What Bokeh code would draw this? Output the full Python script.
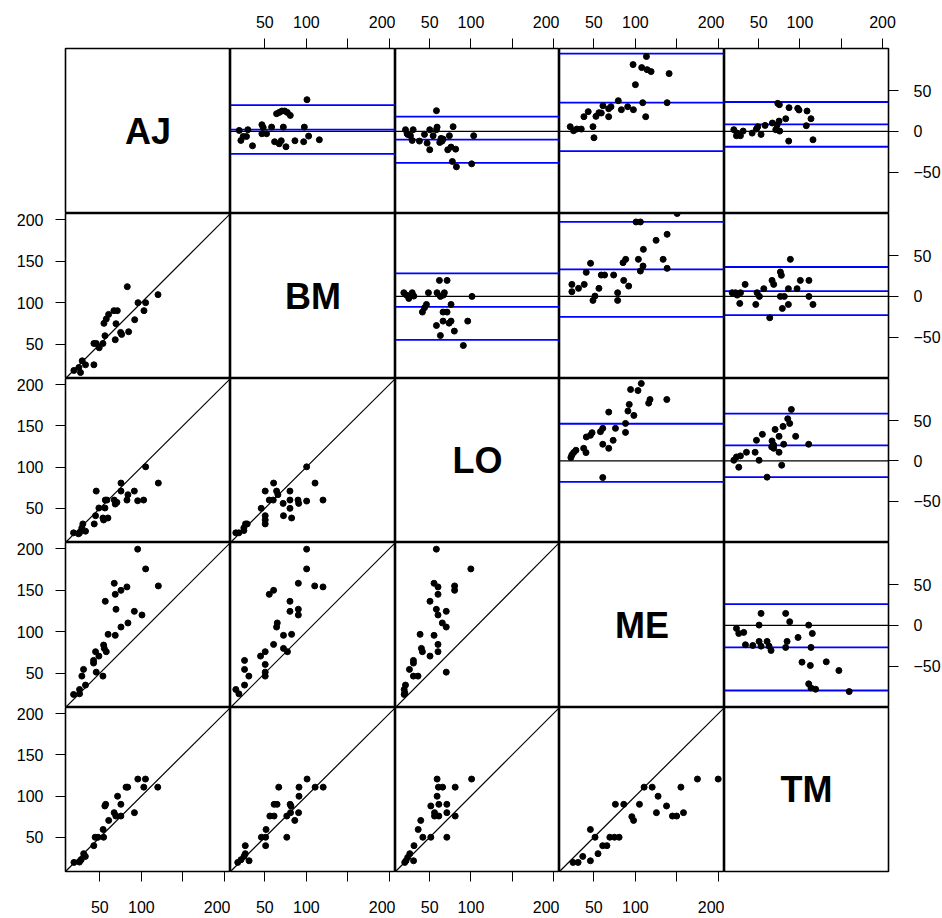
from bokeh.plotting import figure
from bokeh.layouts import gridplot
from bokeh.models import Range1d, LinearAxis, FixedTicker, Span, Slope
from bokeh.embed import file_html
from bokeh.resources import INLINE
from bokeh.core.properties import value

methods = ["AJ", "BM", "LO", "ME", "TM"]
scale_ticks = [50, 100, 150, 200]
diff_ticks = [-50, 0, 50]
scale_lim = (8.6, 207.3)
diff_lim = (-101.0, 102.0)

# ---- lower panels: x = column method, y = row method ----
xy_BM_AJ_x = [83.0,120.0,95.9,105.1,103.1,91.9,66.9,71.0,60.5,57.7,54.9,69.4,56.1,75.0,76.2,84.6,68.5,42.8,45.6,53.7,49.2,28.7,32.7,42.8,24.7,18.7,26.7]
xy_BM_AJ_y = [119.2,109.6,99.9,99.9,90.3,79.4,90.3,90.3,85.8,80.2,75.0,74.6,60.1,64.1,61.7,64.9,55.3,50.8,50.8,50.8,45.6,29.9,25.1,25.1,21.9,18.3,15.8]

xy_LO_AJ_x = [105.1,120.4,75.4,45.6,75.4,83.8,91.5,56.5,58.5,67.3,68.5,70.5,82.6,95.5,102.7,48.8,56.1,44.8,53.7,59.7,54.5,43.2,29.5,28.3,32.7,25.5,18.3,24.3]
xy_LO_AJ_y = [100.3,80.6,80.6,70.9,70.9,66.5,70.9,60.0,60.0,60.0,55.2,57.2,60.0,59.2,60.0,50.4,50.4,41.1,38.3,38.3,35.9,31.1,31.1,26.3,22.3,20.3,20.3,19.1]

xy_LO_BM_x = [100.3,60.5,110.4,50.4,64.1,65.7,80.2,55.3,60.1,72.0,80.2,80.2,89.9,90.7,100.3,120.0,72.4,82.2,45.6,50.4,50.4,50.4,26.7,24.7,28.7,15.0,18.7,24.7]
xy_LO_BM_y = [100.3,80.6,80.6,70.9,70.9,66.5,70.9,60.0,60.0,56.0,60.0,50.0,60.0,56.0,58.8,60.0,41.1,38.3,50.0,41.1,35.9,31.1,31.1,26.3,31.1,20.3,20.3,23.1]

xy_ME_AJ_x = [95.5,105.1,67.3,68.5,75.4,82.6,120.4,56.5,69.4,91.5,100.7,83.8,75.4,59.9,68.5,54.5,55.3,57.7,44.8,48.8,42.4,42.4,30.3,28.3,45.6,53.7,32.7,25.5,18.3,25.5]
xy_ME_AJ_y = [199.3,175.5,158.2,144.9,149.7,153.8,155.0,136.5,126.9,124.4,120.0,110.4,105.5,96.7,95.5,83.8,79.8,75.8,75.8,70.5,65.3,62.1,54.5,46.4,51.2,46.4,35.6,30.3,24.3,25.1]

xy_ME_BM_x = [100.3,100.3,90.3,110.0,120.0,55.3,60.5,80.2,80.2,90.3,90.3,64.9,64.1,72.4,82.2,60.5,72.4,77.2,50.4,44.8,50.4,50.4,50.4,25.5,25.5,30.7,25.5,15.0,18.7]
xy_ME_BM_y = [199.3,175.5,158.2,155.0,153.8,144.9,149.7,136.5,124.4,126.9,120.0,110.4,105.5,95.5,96.7,84.6,79.8,75.8,75.8,70.5,60.5,51.2,46.4,65.3,54.5,46.4,35.6,30.3,25.1]

xy_ME_LO_x = [58.1,99.9,55.3,60.1,80.2,80.2,60.1,50.4,58.1,60.1,70.1,65.3,70.1,38.4,55.3,60.1,40.0,41.2,50.4,60.1,30.3,30.3,25.5,30.3,35.9,70.1,20.7,19.1,19.9,19.1]
xy_ME_LO_y = [199.3,175.5,158.2,153.8,155.0,149.7,144.9,136.5,126.9,120.0,124.4,110.4,105.5,96.7,95.5,84.6,79.8,75.8,70.5,75.8,65.3,62.1,54.5,46.4,46.4,51.2,35.6,30.3,26.3,24.3]

xy_TM_AJ_x = [95.7,104.9,83.5,81.5,102.9,119.7,71.3,57.0,56.0,75.3,67.2,69.2,75.3,91.6,60.6,53.9,44.3,47.8,54.5,42.7,30.5,32.5,27.5,18.8,25.4]
xy_TM_AJ_y = [120.6,120.6,110.8,110.8,110.8,110.8,99.8,90.0,88.0,90.0,79.9,75.8,75.8,79.9,70.5,59.5,50.1,50.1,50.1,39.9,30.2,26.9,22.9,19.6,20.0]

xy_TM_BM_x = [100.8,91.1,110.5,120.2,66.7,91.1,61.1,64.7,80.4,81.4,56.0,61.1,76.4,80.9,90.6,86.0,51.4,45.8,50.9,76.4,50.9,26.4,26.4,24.9,31.0,21.3,17.3]
xy_TM_BM_y = [120.6,110.8,110.8,110.8,110.8,99.8,90.0,90.0,90.0,88.0,75.8,75.8,75.8,79.9,79.9,70.5,59.5,50.1,50.1,50.1,39.9,39.9,30.2,26.9,21.6,22.9,19.6]

xy_TM_LO_x = [59.0,100.8,60.6,65.7,80.9,59.0,51.4,61.1,70.8,55.9,55.9,61.1,70.8,80.9,39.2,36.1,41.7,51.4,70.8,31.0,25.9,23.4,21.3,19.8,30.5]
xy_TM_LO_y = [120.6,120.6,110.8,110.8,110.8,99.8,88.0,90.0,90.0,79.9,75.8,75.8,79.9,75.8,70.5,59.5,50.1,50.1,50.1,39.9,30.2,25.7,21.6,19.6,21.6]

xy_TM_ME_x = [199.7,174.7,154.8,110.5,120.2,127.3,75.9,86.0,104.9,137.5,125.3,157.9,144.6,149.7,95.7,97.8,69.2,74.8,80.4,51.4,45.8,60.6,65.7,55.0,36.6,45.8,24.9,31.0]
xy_TM_ME_y = [120.6,120.6,110.8,110.8,110.8,99.8,90.0,90.0,90.0,88.0,79.9,79.9,75.8,75.8,75.0,70.5,50.1,50.1,50.1,50.1,59.5,39.9,39.9,30.2,26.9,21.6,19.6,19.6]

# ---- upper panels: x = average of the two, y = column minus row ----
ba_AJ_BM_avg = [100.7,64.1,67.3,70.5,73.8,77.0,80.6,46.4,48.0,46.4,52.0,58.1,72.2,97.5,19.1,29.5,23.9,27.9,21.1,35.1,61.7,67.3,69.7,75.4,86.2,96.7,102.7,115.6]
ba_AJ_BM_dif = [39.0,21.8,23.4,25.1,25.1,23.4,19.7,8.2,4.9,-2.9,-2.9,5.3,5.3,5.3,1.2,2.1,-6.2,-6.2,-11.1,-17.7,-12.7,-15.2,-11.5,-18.9,-11.5,-12.7,-5.8,-10.3]
loa_AJ_BM = [-27.7, 2.1, 32.3]

ba_AJ_LO_avg = [58.2,20.7,30.0,23.5,26.7,28.8,37.6,43.7,50.1,54.2,59.0,58.2,46.9,50.1,62.2,65.0,63.8,66.3,73.9,78.4,71.9,75.9,81.5,77.5,82.4,100.9,103.3,22.7]
ba_AJ_LO_dif = [25.5,2.1,2.1,-3.7,-5.3,-11.1,-11.9,-3.7,2.1,-5.3,5.3,2.1,-14.4,-22.6,-13.6,-11.9,-8.6,-9.5,-5.3,5.8,-22.6,-19.3,-21.8,-37.0,-43.6,-39.9,-5.3,-2.9]
loa_AJ_LO = [-38.6, -10.2, 18.3]

ba_AJ_ME_avg = [113.3,97.2,107.6,114.1,118.9,140.6,100.0,79.4,108.8,138.2,112.4,60.9,70.6,83.1,90.7,97.6,67.8,56.1,52.5,58.9,43.2,38.0,67.8,21.5,25.5,29.5,34.8,48.9,50.1]
ba_AJ_ME_dif = [92.1,82.2,78.5,76.0,73.6,71.1,57.5,37.8,35.3,35.3,18.1,31.6,30.4,26.7,30.4,26.7,27.9,23.0,18.5,22.6,24.3,18.1,18.1,5.8,0.8,2.9,2.9,5.8,-7.8]
loa_AJ_ME = [-24.2, 35.3, 95.8]

ba_AJ_TM_avg = [73.1,75.1,86.8,97.3,98.9,108.6,113.4,107.7,82.8,74.7,66.6,57.8,48.9,47.3,72.3,75.5,19.9,23.9,27.9,31.2,23.1,42.1,52.9,86.4,115.8,70.7]
ba_AJ_TM_dif = [34.5,32.9,29.2,28.4,26.3,25.1,15.6,7.0,15.6,12.7,10.3,7.4,5.8,2.9,7.8,0.4,2.1,-2.1,-5.3,0.4,-5.3,-2.1,-3.7,-11.9,-10.3,2.1]
loa_AJ_TM = [-18.9, 8.6, 36.2]

ba_BM_LO_avg = [18.7,24.7,22.0,28.8,30.8,48.5,58.9,61.8,71.1,63.0,67.8,101.3,46.1,43.7,41.2,75.9,66.2,71.1,66.2,73.5,75.9,58.2,63.0,79.9,96.1,90.8,66.6]
ba_BM_LO_dif = [4.5,-2.5,1.6,4.5,0.4,4.5,4.5,19.7,19.7,0.0,4.5,0.0,-9.9,-14.0,-19.3,-9.9,-19.3,-19.3,-30.4,-32.9,-30.4,-35.8,-48.1,-42.7,-30.4,-60.4,1.6]
loa_BM_LO = [-53.5, -12.8, 28.4]

ba_BM_ME_avg = [150.3,100.8,106.0,138.2,124.9,109.6,133.4,138.2,103.6,109.2,106.0,85.1,88.3,73.8,58.9,62.9,46.0,40.8,85.9,91.9,56.1,23.5,31.5,38.4,23.5,78.6,48.9,78.6,51.3]
ba_BM_ME_dif = [102.0,91.6,91.6,76.4,69.0,57.9,45.6,34.5,45.6,37.4,31.2,41.5,45.6,26.3,26.3,26.3,40.7,29.6,19.7,12.7,9.9,14.8,9.9,14.8,5.8,4.5,-4.9,-4.9,0.4]
loa_BM_ME = [-25.1, 33.3, 91.6]

ba_BM_TM_avg = [88.4,76.3,77.5,66.2,68.2,56.2,33.6,100.5,110.9,86.0,96.5,17.9,21.9,28.0,24.0,48.1,50.9,76.3,81.1,110.9,27.1,46.5,86.0,115.8,78.7,63.4]
ba_BM_TM_dif = [45.6,30.0,25.9,19.7,14.8,9.5,14.8,19.7,19.7,9.5,9.5,4.5,4.5,4.5,1.6,4.5,0.0,0.0,0.0,0.0,-8.6,-9.9,-9.9,-9.9,-14.8,-26.3]
loa_BM_TM = [-23.0, 6.6, 36.2]

ba_LO_ME_avg = [107.1,94.2,103.1,117.6,116.0,137.8,92.6,91.0,98.2,67.9,88.1,88.1,76.0,60.7,57.9,47.8,45.8,40.9,73.2,60.7,67.9,37.7,40.5,28.4,25.6,23.5,22.3,60.7]
ba_LO_ME_dif = [95.8,88.4,87.1,76.0,71.5,76.0,69.9,61.7,56.3,60.4,46.4,35.3,40.3,40.3,36.2,34.9,31.6,29.6,25.5,20.6,15.6,15.6,10.3,13.2,10.3,7.4,4.1,-20.6]
loa_LO_ME = [-25.9, 46.0, 117.9]

ba_LO_TM_avg = [89.6,85.2,87.6,79.5,69.9,94.8,74.7,54.5,47.3,66.2,68.2,80.3,110.6,65.8,68.2,35.2,45.7,74.7,19.9,23.1,27.9,50.5,25.9,77.9,60.2]
ba_LO_TM_dif = [63.7,52.2,46.4,42.7,39.0,30.4,30.4,32.9,25.5,24.7,19.7,20.6,20.6,17.3,15.6,10.7,10.7,10.7,0.8,4.9,6.2,0.8,-7.8,-5.3,-20.1]
loa_LO_TM = [-20.1, 19.3, 58.4]

ba_ME_TM_avg = [52.9,82.7,87.6,110.6,50.5,23.1,25.9,31.9,115.0,97.7,34.0,42.9,50.5,52.9,60.2,62.6,65.0,84.4,82.7,113.4,102.5,112.6,131.9,147.2,110.6,113.4,119.0,159.7]
ba_ME_TM_dif = [14.8,14.8,4.5,0.4,0.4,-3.7,-9.9,-8.6,-9.9,-14.8,-23.8,-24.7,-19.7,-25.5,-19.7,-25.5,-30.8,-19.7,-27.1,-27.1,-45.2,-49.3,-44.8,-55.5,-71.9,-76.9,-78.5,-81.4]
loa_ME_TM = [-80.1, -27.1, 26.3]

lower = {
    ("BM", "AJ"): (xy_BM_AJ_x, xy_BM_AJ_y),
    ("LO", "AJ"): (xy_LO_AJ_x, xy_LO_AJ_y),
    ("LO", "BM"): (xy_LO_BM_x, xy_LO_BM_y),
    ("ME", "AJ"): (xy_ME_AJ_x, xy_ME_AJ_y),
    ("ME", "BM"): (xy_ME_BM_x, xy_ME_BM_y),
    ("ME", "LO"): (xy_ME_LO_x, xy_ME_LO_y),
    ("TM", "AJ"): (xy_TM_AJ_x, xy_TM_AJ_y),
    ("TM", "BM"): (xy_TM_BM_x, xy_TM_BM_y),
    ("TM", "LO"): (xy_TM_LO_x, xy_TM_LO_y),
    ("TM", "ME"): (xy_TM_ME_x, xy_TM_ME_y),
}
upper = {
    ("AJ", "BM"): (ba_AJ_BM_avg, ba_AJ_BM_dif, loa_AJ_BM),
    ("AJ", "LO"): (ba_AJ_LO_avg, ba_AJ_LO_dif, loa_AJ_LO),
    ("AJ", "ME"): (ba_AJ_ME_avg, ba_AJ_ME_dif, loa_AJ_ME),
    ("AJ", "TM"): (ba_AJ_TM_avg, ba_AJ_TM_dif, loa_AJ_TM),
    ("BM", "LO"): (ba_BM_LO_avg, ba_BM_LO_dif, loa_BM_LO),
    ("BM", "ME"): (ba_BM_ME_avg, ba_BM_ME_dif, loa_BM_ME),
    ("BM", "TM"): (ba_BM_TM_avg, ba_BM_TM_dif, loa_BM_TM),
    ("LO", "ME"): (ba_LO_ME_avg, ba_LO_ME_dif, loa_LO_ME),
    ("LO", "TM"): (ba_LO_TM_avg, ba_LO_TM_dif, loa_LO_TM),
    ("ME", "TM"): (ba_ME_TM_avg, ba_ME_TM_dif, loa_ME_TM),
}

FONT = "Liberation Sans"
frame_w = [165, 165, 164, 165, 164]
frame_h = [165, 165, 164, 165, 164]
left_b = [65, 0, 0, 0, 0]
right_b = [0, 0, 0, 0, 54]
top_b = [48, 0, 0, 0, 0]
bottom_b = [0, 0, 0, 0, 47]


def make_axis(ticks, overrides, standoff):
    ax = LinearAxis(ticker=FixedTicker(ticks=ticks))
    ax.major_label_overrides = overrides
    ax.axis_line_color = None
    ax.major_tick_out = 10
    ax.major_tick_in = 0
    ax.major_tick_line_color = "black"
    ax.major_tick_line_width = 1
    ax.minor_tick_line_color = None
    ax.major_label_standoff = standoff
    ax.major_label_text_font = FONT
    ax.major_label_text_font_size = "16px"
    ax.major_label_text_color = "black"
    return ax


rows = []
for i, rm in enumerate(methods):
    row = []
    for j, cm in enumerate(methods):
        if i > j:
            xr, yr = Range1d(*scale_lim), Range1d(*scale_lim)
        elif i < j:
            xr, yr = Range1d(*scale_lim), Range1d(*diff_lim)
        else:
            xr, yr = Range1d(0, 1), Range1d(0, 1)
        p = figure(frame_width=frame_w[j], frame_height=frame_h[i],
                   x_range=xr, y_range=yr,
                   x_axis_location=None, y_axis_location=None,
                   toolbar_location=None, output_backend="svg",
                   min_border_left=left_b[j], min_border_right=right_b[j],
                   min_border_top=top_b[i], min_border_bottom=bottom_b[i])
        p.grid.visible = False
        p.outline_line_color = "black"
        p.outline_line_width = 1.6
        p.background_fill_color = "white"
        p.border_fill_color = "white"

        if i > j:
            xs, ys = lower[(rm, cm)]
            p.add_layout(Slope(gradient=1, y_intercept=0, line_color="black", line_width=1.2))
            p.scatter(xs, ys, size=6, color="black")
        elif i < j:
            xs, ys, loa = upper[(rm, cm)]
            p.add_layout(Span(location=0, dimension="width", line_color="black",
                              line_width=1.3, level="underlay"))
            for v in loa:
                p.add_layout(Span(location=v, dimension="width", line_color="#0000ff",
                                  line_width=1.8, level="underlay"))
            p.scatter(xs, ys, size=6, color="black")
        else:
            p.text(x=[0.5], y=[0.5], text=[rm], text_font=value(FONT),
                   text_font_style="bold", text_font_size="36px",
                   text_align="center", text_baseline="middle", text_color="black")

        if j == 0 and i > 0:
            p.add_layout(make_axis(scale_ticks, {}, 12), "left")
        if i == 0 and j > 0:
            p.add_layout(make_axis(scale_ticks, {150: ""}, 11), "above")
        if i == 4 and j < 4:
            p.add_layout(make_axis(scale_ticks, {150: ""}, 19), "below")
        if j == 4 and i < 4:
            p.add_layout(make_axis(diff_ticks, {-50: "\u221250"}, 15), "right")
        row.append(p)
    rows.append(row)

grid = gridplot(rows, toolbar_location=None)
open("out.html", "w").write(file_html(grid, INLINE))
